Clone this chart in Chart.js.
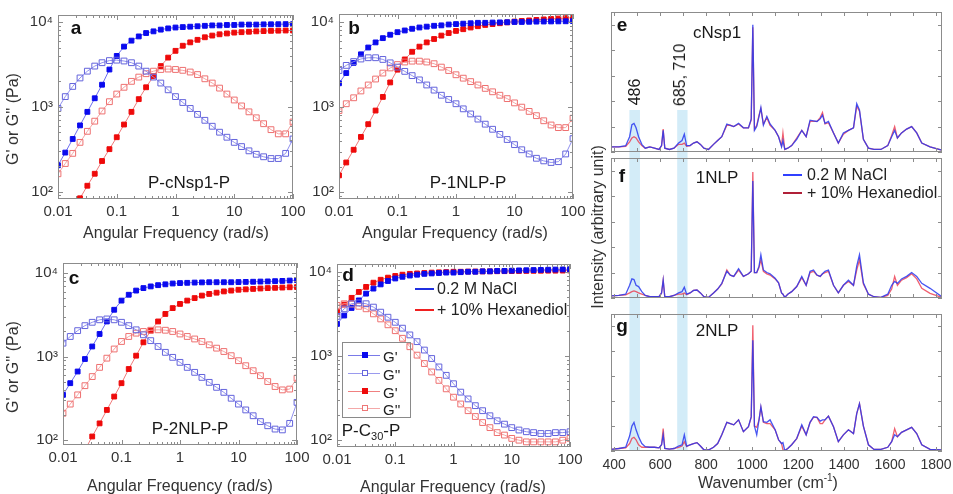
<!DOCTYPE html>
<html>
<head>
<meta charset="utf-8">
<script src="https://cdn.jsdelivr.net/npm/chart.js@4.4.1/dist/chart.umd.min.js"></script>
<style>
  body { margin: 0; background: #fff; }
  #page { position: relative; width: 953px; height: 494px; overflow: hidden; font-family: "Liberation Sans", Arial, sans-serif; color: #262626; }
  canvas { position: absolute; left: 0; top: 0; }
  .t { position: absolute; transform: translate(-50%, -50%); white-space: nowrap; line-height: 1; }
  .l { position: absolute; transform: translateY(-50%); white-space: nowrap; line-height: 1; }
  .rot { transform: translate(-50%, -50%) rotate(-90deg); }
  .ttl { font-size: 16px; color: #333; }
  .tag { font-size: 19px; font-weight: bold; color: #111; }
  .name { font-size: 17px; color: #1a1a1a; }
  .leg { font-size: 16px; color: #222; }
  .sw { position: absolute; height: 2px; }
  .mk { position: absolute; box-sizing: border-box; }
</style>
</head>
<body>
<div id="page">
  <canvas id="pa" width="953" height="494"></canvas>
  <canvas id="pb" width="953" height="494"></canvas>
  <canvas id="pc" width="953" height="494"></canvas>
  <canvas id="pd" width="953" height="494"></canvas>
  <canvas id="pe" width="953" height="494"></canvas>
  <canvas id="pf" width="953" height="494"></canvas>
  <canvas id="pg" width="953" height="494"></canvas>

  <!-- titres des axes -->
  <div class="t rot ttl" style="left:13px;top:119px">G' or G'' (Pa)</div>
  <div class="t rot ttl" style="left:13px;top:367px">G' or G'' (Pa)</div>
  <div class="t ttl" style="left:176px;top:233px">Angular Frequency (rad/s)</div>
  <div class="t ttl" style="left:455px;top:233px">Angular Frequency (rad/s)</div>
  <div class="t ttl" style="left:180px;top:486px">Angular Frequency (rad/s)</div>
  <div class="t ttl" style="left:453px;top:487px">Angular Frequency (rad/s)</div>
  <div class="t rot ttl" style="left:598px;top:227px">Intensity (arbitrary unit)</div>
  <div class="t ttl" style="left:768px;top:482px">Wavenumber (cm<sup style="font-size:10px">-1</sup>)</div>

  <!-- lettres des panneaux -->
  <div class="t tag" style="left:76px;top:27px">a</div>
  <div class="t tag" style="left:354px;top:27px">b</div>
  <div class="t tag" style="left:74px;top:277px">c</div>
  <div class="t tag" style="left:348px;top:274px">d</div>
  <div class="t tag" style="left:622px;top:24px">e</div>
  <div class="t tag" style="left:622px;top:175px">f</div>
  <div class="t tag" style="left:622px;top:325px">g</div>

  <!-- échantillons -->
  <div class="t name" style="left:189px;top:182px">P-cNsp1-P</div>
  <div class="t name" style="left:468px;top:182px">P-1NLP-P</div>
  <div class="t name" style="left:190px;top:428px">P-2NLP-P</div>
  <div class="t name" style="left:371px;top:432px">P-C<sub style="font-size:11px">30</sub>-P</div>
  <div class="t name" style="left:717px;top:32px">cNsp1</div>
  <div class="t name" style="left:717px;top:177px">1NLP</div>
  <div class="t name" style="left:717px;top:330px">2NLP</div>
  <div class="t rot name" style="left:635px;top:92px;font-size:16px">486</div>
  <div class="t rot name" style="left:680px;top:75px;font-size:16px">685, 710</div>

  <!-- légende d -->
  <div class="sw" style="left:415px;top:288px;width:19px;background:#1f2fe0"></div>
  <div class="l leg" style="left:437px;top:289px">0.2 M NaCl</div>
  <div class="sw" style="left:415px;top:309px;width:19px;background:#f02020"></div>
  <div class="l leg" style="left:437px;top:310px">+ 10% Hexanediol</div>

  <!-- légende G'/G'' -->
  <div style="position:absolute;left:342px;top:342px;width:67px;height:74px;border:1px solid #8a8a8a"></div>
  <div class="sw" style="left:348px;top:355px;width:32px;height:1px;background:#7a7ae8"></div>
  <div class="mk" style="left:362px;top:352px;width:6px;height:6px;background:#0a0aee"></div>
  <div class="l leg" style="left:383px;top:356px;font-size:15px">G'</div>
  <div class="sw" style="left:348px;top:373px;width:32px;height:1px;background:#9a9aee"></div>
  <div class="mk" style="left:362px;top:370px;width:6px;height:6px;border:1px solid #6666dd;background:#fff"></div>
  <div class="l leg" style="left:383px;top:374px;font-size:15px">G''</div>
  <div class="sw" style="left:348px;top:391px;width:32px;height:1px;background:#f08080"></div>
  <div class="mk" style="left:362px;top:388px;width:6px;height:6px;background:#ee0a0a"></div>
  <div class="l leg" style="left:383px;top:392px;font-size:15px">G'</div>
  <div class="sw" style="left:348px;top:408px;width:32px;height:1px;background:#f4a8a8"></div>
  <div class="mk" style="left:362px;top:405px;width:6px;height:6px;border:1px solid #ee7777;background:#fff"></div>
  <div class="l leg" style="left:383px;top:409px;font-size:15px">G''</div>

  <!-- légende f -->
  <div class="sw" style="left:783px;top:174px;width:19px;background:#3040ff"></div>
  <div class="l leg" style="left:807px;top:175px">0.2 M NaCl</div>
  <div class="sw" style="left:783px;top:192px;width:19px;background:#b02038"></div>
  <div class="l leg" style="left:807px;top:193px">+ 10% Hexanediol</div>
</div>

<script>
// fréquences angulaires (rad/s), communes aux 4 panneaux
const freq = [0.01, 0.0133, 0.0178, 0.0237, 0.0316, 0.0422, 0.0562, 0.075, 0.1, 0.133, 0.178, 0.237, 0.316, 0.422, 0.562, 0.75,
  1, 1.33, 1.78, 2.37, 3.16, 4.22, 5.62, 7.5, 10, 13.3, 17.8, 23.7, 31.6, 42.2, 56.2, 75, 100];

// a : P-cNsp1-P
const aBlueGp = [204, 288, 417, 603, 871, 1260, 1820, 2750, 3980, 5130, 6030, 6760, 7410, 7760, 8130, 8410, 8610, 8710, 8810, 8910, 9020, 9120, 9120, 9230, 9230, 9330, 9330, 9330, 9380, 9400, 9420, 9440, 9440];
const aBlueGpp = [955, 1318, 1738, 2188, 2630, 3020, 3311, 3508, 3548, 3467, 3311, 3020, 2630, 2239, 1905, 1585, 1318, 1122, 955, 813, 692, 589, 501, 437, 380, 339, 302, 275, 257, 245, 245, 282, 417];
const aRedGp = [31.6, 43.7, 60.3, 83.2, 117, 162, 229, 316, 437, 617, 871, 1230, 1698, 2291, 3020, 3802, 4571, 5248, 5754, 6166, 6607, 6918, 7161, 7328, 7499, 7586, 7674, 7762, 7816, 7870, 7907, 7943, 7943];
const aRedGpp = [162, 214, 282, 380, 513, 676, 891, 1148, 1413, 1698, 1995, 2239, 2455, 2630, 2754, 2786, 2754, 2692, 2570, 2399, 2138, 1905, 1660, 1413, 1202, 1023, 871, 741, 631, 537, 479, 479, 661];

// b : P-1NLP-P
const bBlueGp = [1905, 2512, 3311, 4169, 5012, 5754, 6457, 7079, 7586, 7943, 8318, 8610, 8810, 9016, 9120, 9333, 9441, 9550, 9661, 9772, 9772, 9840, 9886, 9931, 10000, 10000, 10046, 10093, 10116, 10139, 10162, 10186, 10233];
const bBlueGpp = [2692, 3090, 3428, 3673, 3802, 3802, 3631, 3311, 2951, 2630, 2344, 2089, 1820, 1585, 1380, 1230, 1096, 955, 832, 724, 631, 550, 479, 417, 363, 316, 282, 251, 234, 224, 229, 282, 427];
const bRedGp = [158, 224, 316, 447, 631, 912, 1318, 1950, 2754, 3631, 4467, 5129, 5754, 6310, 6918, 7413, 7852, 8222, 8610, 8913, 9226, 9441, 9661, 9886, 10116, 10280, 10423, 10568, 10715, 10839, 10965, 11092, 11220];
const bRedGpp = [912, 1096, 1288, 1549, 1820, 2138, 2512, 2884, 3162, 3388, 3467, 3467, 3388, 3236, 2951, 2692, 2399, 2188, 1995, 1820, 1660, 1514, 1380, 1259, 1122, 1000, 891, 794, 692, 617, 575, 575, 741];

// c : P-2NLP-P
const cBlueGp = [347, 479, 661, 933, 1318, 1862, 2630, 3631, 4677, 5495, 6166, 6607, 6918, 7161, 7328, 7499, 7586, 7638, 7691, 7727, 7762, 7762, 7762, 7762, 7798, 7834, 7870, 7907, 7943, 7998, 8054, 8128, 8222];
const cBlueGpp = [1445, 1738, 2042, 2344, 2570, 2754, 2818, 2754, 2570, 2344, 2089, 1820, 1549, 1318, 1122, 977, 851, 741, 646, 562, 490, 427, 372, 316, 269, 229, 195, 166, 148, 135, 132, 158, 282];
const cRedGp = [25, 36, 52, 76, 110, 158, 229, 331, 479, 708, 1023, 1479, 2042, 2630, 3236, 3802, 4266, 4677, 5012, 5370, 5623, 5821, 6026, 6166, 6310, 6383, 6457, 6531, 6607, 6653, 6699, 6761, 6792];
const cRedGpp = [209, 269, 347, 447, 575, 741, 955, 1230, 1514, 1738, 1905, 1995, 2065, 2089, 2065, 1995, 1862, 1738, 1622, 1514, 1380, 1259, 1148, 1023, 891, 776, 676, 589, 501, 437, 398, 407, 550];

// d : P-C30-P
const dBlueGp = [2399, 3020, 3715, 4571, 5495, 6310, 7079, 7762, 8318, 8710, 9016, 9226, 9441, 9550, 9661, 9772, 9772, 9886, 10000, 10000, 10116, 10116, 10233, 10233, 10304, 10375, 10423, 10471, 10520, 10568, 10617, 10666, 10715];
const dBlueGpp = [2951, 3631, 4169, 4266, 4169, 3802, 3311, 2884, 2512, 2138, 1778, 1479, 1175, 933, 741, 589, 468, 372, 309, 257, 224, 195, 170, 155, 141, 132, 126, 123, 120, 120, 123, 123, 126];
const dRedGp = [3311, 4074, 4898, 5754, 6607, 7413, 8035, 8511, 8913, 9226, 9441, 9550, 9661, 9772, 9840, 9908, 10000, 10000, 10046, 10069, 10093, 10116, 10139, 10162, 10186, 10209, 10233, 10257, 10280, 10304, 10304, 10328, 10351];
const dRedGpp = [3981, 4169, 4121, 3890, 3631, 3162, 2754, 2344, 1995, 1622, 1288, 1023, 813, 646, 513, 407, 324, 269, 224, 191, 162, 141, 123, 115, 105, 100, 95.5, 95.5, 95.5, 95.5, 95.5, 100, 105];

// graduations
const freqDecades = [0.01, 0.1, 1, 10, 100];
const freqLabels = ['0.01', '0.1', '1', '10', '100'];
const modDecades = [100, 1000, 10000];
const modLabels = ['10²', '10³', '10⁴'];

// spectres Raman : nombre d'onde (cm-1)
const wavenumber = [386, 420, 450, 467, 477, 486, 495, 506, 520, 535,
  555, 575, 595, 606, 613, 620, 640, 660, 680, 695,
  705, 715, 730, 745, 760, 775, 790, 810, 832, 850,
  868, 890, 905, 920, 941, 962, 984, 996, 1003, 1010,
  1020, 1030, 1038, 1049, 1064, 1078, 1100, 1115, 1128, 1134,
  1142, 1155, 1172, 1194, 1216, 1235, 1252, 1267, 1282, 1296,
  1306, 1317, 1332, 1354, 1375, 1397, 1419, 1441, 1455, 1467,
  1484, 1506, 1530, 1560, 1590, 1607, 1620, 1632, 1650, 1672,
  1694, 1716, 1738, 1774, 1825];

const eNaCl = [0.04, 0.04, 0.05, 0.12, 0.215, 0.225, 0.19, 0.12, 0.06, 0.03,
  0.04, 0.03, 0.02, 0.05, 0.17, 0.03, 0.02, 0.03, 0.07, 0.09,
  0.14, 0.05, 0.05, 0.07, 0.08, 0.06, 0.03, 0.02, 0.06, 0.09,
  0.12, 0.22, 0.21, 0.20, 0.225, 0.19, 0.19, 0.26, 1.0, 0.17,
  0.20, 0.28, 0.35, 0.21, 0.28, 0.22, 0.17, 0.12, 0.04, 0.09,
  0.02, 0.03, 0.05, 0.10, 0.17, 0.12, 0.25, 0.245, 0.24, 0.26,
  0.29, 0.225, 0.24, 0.15, 0.07, 0.15, 0.17, 0.19, 0.38, 0.33,
  0.10, 0.03, 0.02, 0.02, 0.05, 0.12, 0.17, 0.11, 0.15, 0.18,
  0.20, 0.15, 0.07, 0.04, 0.015];
const eHex = [0.04, 0.04, 0.045, 0.08, 0.11, 0.12, 0.11, 0.08, 0.05, 0.03,
  0.04, 0.03, 0.02, 0.05, 0.18, 0.03, 0.02, 0.03, 0.06, 0.06,
  0.07, 0.045, 0.05, 0.07, 0.08, 0.06, 0.03, 0.02, 0.06, 0.09,
  0.12, 0.21, 0.21, 0.20, 0.22, 0.19, 0.19, 0.25, 0.98, 0.18,
  0.21, 0.29, 0.34, 0.22, 0.27, 0.21, 0.17, 0.12, 0.05, 0.15,
  0.02, 0.03, 0.05, 0.11, 0.17, 0.12, 0.24, 0.24, 0.24, 0.27,
  0.31, 0.22, 0.23, 0.15, 0.07, 0.14, 0.17, 0.19, 0.36, 0.32,
  0.10, 0.03, 0.02, 0.02, 0.05, 0.13, 0.20, 0.11, 0.15, 0.18,
  0.20, 0.15, 0.07, 0.04, 0.015];

const fNaCl = [0.016, 0.02, 0.03, 0.10, 0.15, 0.145, 0.10, 0.09, 0.05, 0.02,
  0.01, 0.01, 0.01, 0.04, 0.14, 0.01, 0.01, 0.02, 0.04, 0.05,
  0.085, 0.03, 0.04, 0.06, 0.063, 0.04, 0.01, 0.005, 0.04, 0.07,
  0.115, 0.21, 0.18, 0.17, 0.23, 0.17, 0.19, 0.21, 0.92, 0.20,
  0.20, 0.25, 0.34, 0.22, 0.20, 0.19, 0.155, 0.12, 0.04, 0.03,
  0.005, 0.03, 0.05, 0.09, 0.17, 0.10, 0.21, 0.22, 0.18, 0.17,
  0.19, 0.21, 0.22, 0.10, 0.04, 0.10, 0.14, 0.10, 0.25, 0.34,
  0.12, 0.03, 0.01, 0.005, 0.03, 0.10, 0.13, 0.115, 0.15, 0.17,
  0.20, 0.17, 0.115, 0.076, 0.01];
const fHex = [0.016, 0.02, 0.025, 0.04, 0.05, 0.055, 0.05, 0.04, 0.03, 0.02,
  0.01, 0.01, 0.01, 0.04, 0.14, 0.01, 0.01, 0.02, 0.03, 0.03,
  0.04, 0.025, 0.04, 0.06, 0.063, 0.04, 0.01, 0.005, 0.04, 0.07,
  0.11, 0.22, 0.18, 0.17, 0.22, 0.17, 0.19, 0.21, 0.99, 0.20,
  0.20, 0.24, 0.30, 0.21, 0.19, 0.18, 0.15, 0.12, 0.04, 0.03,
  0.005, 0.03, 0.05, 0.09, 0.16, 0.10, 0.20, 0.21, 0.18, 0.17,
  0.19, 0.20, 0.21, 0.10, 0.04, 0.10, 0.13, 0.10, 0.22, 0.30,
  0.11, 0.03, 0.01, 0.005, 0.02, 0.07, 0.17, 0.10, 0.14, 0.16,
  0.19, 0.15, 0.076, 0.037, 0.005];

const gNaCl = [0.013, 0.02, 0.03, 0.12, 0.20, 0.23, 0.17, 0.115, 0.06, 0.035,
  0.03, 0.03, 0.025, 0.05, 0.13, 0.02, 0.015, 0.02, 0.04, 0.05,
  0.13, 0.04, 0.05, 0.06, 0.067, 0.04, 0.01, 0.008, 0.03, 0.06,
  0.13, 0.23, 0.22, 0.21, 0.25, 0.155, 0.195, 0.276, 0.89, 0.20,
  0.13, 0.25, 0.356, 0.235, 0.23, 0.25, 0.17, 0.09, 0.06, 0.067,
  0.003, 0.02, 0.05, 0.10, 0.21, 0.13, 0.23, 0.276, 0.27, 0.24,
  0.25, 0.25, 0.28, 0.195, 0.075, 0.13, 0.17, 0.14, 0.30, 0.38,
  0.20, 0.05, 0.013, 0.013, 0.03, 0.075, 0.13, 0.115, 0.15, 0.17,
  0.19, 0.14, 0.05, 0.013, 0.008];
const gHex = [0.013, 0.02, 0.025, 0.06, 0.10, 0.11, 0.09, 0.05, 0.03, 0.03,
  0.03, 0.03, 0.025, 0.05, 0.18, 0.02, 0.015, 0.02, 0.03, 0.04,
  0.075, 0.035, 0.05, 0.06, 0.067, 0.04, 0.01, 0.008, 0.03, 0.06,
  0.13, 0.23, 0.22, 0.21, 0.25, 0.155, 0.195, 0.27, 1.01, 0.20,
  0.19, 0.25, 0.35, 0.23, 0.22, 0.22, 0.17, 0.09, 0.06, 0.01,
  0.003, 0.02, 0.05, 0.10, 0.20, 0.13, 0.23, 0.27, 0.27, 0.22,
  0.22, 0.25, 0.28, 0.195, 0.075, 0.13, 0.17, 0.14, 0.30, 0.38,
  0.20, 0.05, 0.013, 0.013, 0.03, 0.075, 0.18, 0.115, 0.15, 0.17,
  0.19, 0.14, 0.05, 0.013, 0.008];

const ramanTicks = [400, 500, 600, 700, 800, 900, 1000, 1100, 1200, 1300, 1400, 1500, 1600, 1700, 1800];
const ramanLabels = ['400', '', '600', '', '800', '', '1000', '', '1200', '', '1400', '', '1600', '', '1800'];
const intensityTicks = [0, 0.2, 0.4, 0.6, 0.8, 1.0];
// bandes 486 et 685/710
const bands = [[466, 512], [674, 719]];

const W = 953, H = 494;

// petites graduations vers l'intérieur, style MATLAB, sur les 4 côtés
const boxTicks = {
  id: "boxTicks",
  afterDatasetsDraw(chart, args, opts) {
    const { ctx, chartArea: a, scales } = chart;
    const big = opts.big || 5, small = opts.small || 3;
    ctx.save();
    ctx.strokeStyle = "#8c8c8c";
    ctx.lineWidth = 1;
    ctx.beginPath();
    scales.x.ticks.forEach((t) => {
      const p = Math.round(scales.x.getPixelForValue(t.value)) + 0.5;
      const len = t.major ? big : small;
      ctx.moveTo(p, a.bottom); ctx.lineTo(p, a.bottom - len);
      ctx.moveTo(p, a.top); ctx.lineTo(p, a.top + len);
    });
    scales.y.ticks.forEach((t) => {
      const p = Math.round(scales.y.getPixelForValue(t.value)) + 0.5;
      const len = t.major ? big : small;
      ctx.moveTo(a.left, p); ctx.lineTo(a.left + len, p);
      ctx.moveTo(a.right, p); ctx.lineTo(a.right - len, p);
    });
    ctx.stroke();
    ctx.strokeRect(Math.round(a.left) + 0.5, Math.round(a.top) + 0.5, Math.round(a.right - a.left) - 1, Math.round(a.bottom - a.top) - 1);
    ctx.restore();
  },
};

// bandes bleu clair derrière les spectres
const bandPlugin = {
  id: "bands",
  beforeDatasetsDraw(chart, args, opts) {
    const { ctx, chartArea: a, scales: { x, y } } = chart;
    const top = y.getPixelForValue(opts.top);
    ctx.save();
    ctx.fillStyle = "#d3ecf8";
    bands.forEach(([w0, w1]) => {
      const x0 = x.getPixelForValue(w0), x1 = x.getPixelForValue(w1);
      ctx.fillRect(x0, top, x1 - x0, a.bottom + opts.extend - top);
    });
    ctx.restore();
  },
};

function logTicks(min, max) {
  const out = [];
  for (let e = Math.floor(Math.log10(min)); e <= Math.floor(Math.log10(max)); e++) {
    for (let m = 1; m < 10; m++) {
      const v = +(m * Math.pow(10, e)).toPrecision(6);
      if (v >= min && v <= max) out.push({ value: v, major: m === 1 });
    }
  }
  return out;
}

function series(vals, line, mark, filled) {
  return {
    data: freq.map((f, i) => ({ x: f, y: vals[i] })),
    borderColor: line,
    borderWidth: 1,
    pointStyle: "rect",
    pointRadius: filled ? 3.4 : 4.1,
    pointBorderWidth: 1,
    pointBorderColor: mark,
    pointBackgroundColor: filled ? mark : "rgba(255,255,255,0)",
    tension: 0,
  };
}

// graphique rhéologie (log-log)
function rheoChart(id, box, yMin, yMax, blueGp, blueGpp, redGp, redGpp) {
  const yw = 50, xh = 30;
  new Chart(document.getElementById(id), {
    type: "line",
    data: {
      datasets: [
        series(blueGpp, "#9090ee", "#6464dc", false),
        series(redGpp, "#f4a4a4", "#ee7070", false),
        series(blueGp, "#6e6ef0", "#0a0aee", true),
        series(redGp, "#f07a7a", "#ee0a0a", true),
      ],
    },
    options: {
      responsive: false,
      animation: false,
      devicePixelRatio: 1,
      layout: { padding: { left: box[0] - yw, top: box[1], right: W - box[2], bottom: H - box[3] - xh } },
      plugins: { legend: { display: false }, tooltip: { enabled: false } },
      scales: {
        x: {
          type: "logarithmic", min: 0.01, max: 100,
          grid: { display: false, drawTicks: false }, border: { display: false },
          afterBuildTicks: (s) => { s.ticks = logTicks(0.01, 100); },
          afterFit: (s) => { s.height = xh; s.paddingLeft = 0; s.paddingRight = 0; },
          ticks: {
            autoSkip: false, maxRotation: 0, padding: 4, color: "#333",
            font: { family: "Liberation Sans", size: 15 },
            callback: (v) => { const k = freqDecades.indexOf(v); return k < 0 ? "" : freqLabels[k]; },
          },
        },
        y: {
          type: "logarithmic", min: yMin, max: yMax,
          grid: { display: false, drawTicks: false }, border: { display: false },
          afterBuildTicks: (s) => { s.ticks = logTicks(yMin, yMax); },
          afterFit: (s) => { s.width = yw; s.paddingTop = 0; s.paddingBottom = 0; },
          ticks: {
            autoSkip: false, padding: 5, color: "#333",
            font: { family: "Liberation Sans", size: 15 },
            callback: (v) => { const k = modDecades.indexOf(v); return k < 0 ? "" : modLabels[k]; },
          },
        },
      },
    },
    plugins: [boxTicks],
  });
}

rheoChart("pa", [58, 15, 293, 199], 81.6, 12100, aBlueGp, aBlueGpp, aRedGp, aRedGpp);
rheoChart("pb", [339, 14, 573, 199], 83.5, 12400, bBlueGp, bBlueGpp, bRedGp, bRedGpp);
rheoChart("pc", [63, 263, 297, 445], 87, 13200, cBlueGp, cBlueGpp, cRedGp, cRedGpp);
rheoChart("pd", [337, 264, 570, 447], 83, 12360, dBlueGp, dBlueGpp, dRedGp, dRedGpp);

// spectres Raman
function ramanChart(id, box, naCl, hex, bandTop, bandExtend, showX) {
  const xh = showX ? 30 : 0;
  const line = (vals, color) => ({
    data: wavenumber.map((w, i) => ({ x: w, y: vals[i] })),
    borderColor: color, borderWidth: 1.3, pointRadius: 0, tension: 0,
  });
  new Chart(document.getElementById(id), {
    type: "line",
    data: { datasets: [line(naCl, "rgba(40,56,240,0.85)"), line(hex, "rgba(236,50,70,0.78)")] },
    options: {
      responsive: false,
      animation: false,
      devicePixelRatio: 1,
      layout: { padding: { left: box[0], top: box[1], right: W - box[2], bottom: H - box[3] - xh } },
      plugins: {
        legend: { display: false }, tooltip: { enabled: false },
        bands: { top: bandTop, extend: bandExtend },
        boxTicks: { big: 4, small: 4 },
      },
      scales: {
        x: {
          type: "linear", min: 386, max: 1826,
          grid: { display: false, drawTicks: false }, border: { display: false },
          afterBuildTicks: (s) => { s.ticks = ramanTicks.map((v) => ({ value: v })); },
          afterFit: (s) => { s.height = xh; s.paddingLeft = 0; s.paddingRight = 0; },
          ticks: {
            display: showX, autoSkip: false, maxRotation: 0, padding: 6, color: "#333",
            font: { family: "Liberation Sans", size: 14 },
            callback: (v, i) => ramanLabels[i],
          },
        },
        y: {
          type: "linear", min: 0, max: 1.1,
          grid: { display: false, drawTicks: false }, border: { display: false },
          afterBuildTicks: (s) => { s.ticks = intensityTicks.map((v) => ({ value: v })); },
          afterFit: (s) => { s.width = 0; s.paddingTop = 0; s.paddingBottom = 0; },
          ticks: { display: false },
        },
      },
    },
    plugins: [bandPlugin, boxTicks],
  });
}

ramanChart("pe", [611, 12, 942, 152], eNaCl, eHex, 0.33, 6, false);
ramanChart("pf", [611, 158, 942, 298], fNaCl, fHex, 1.1, 16, false);
ramanChart("pg", [611, 314, 942, 451], gNaCl, gHex, 1.1, 0, true);
</script>
</body>
</html>
